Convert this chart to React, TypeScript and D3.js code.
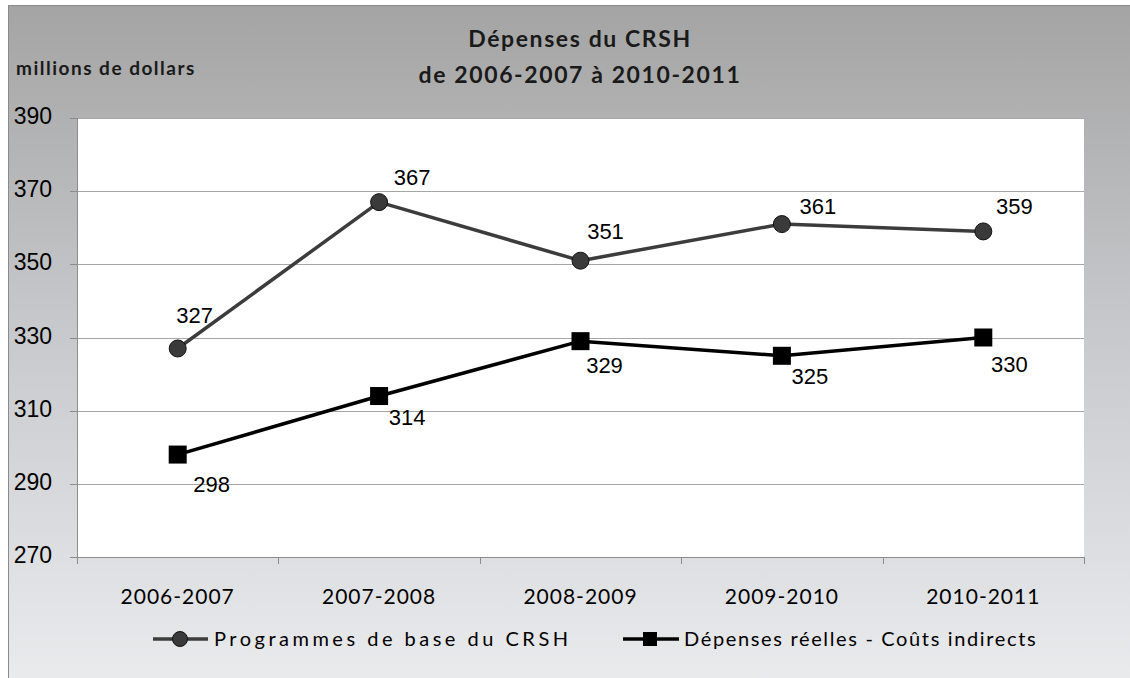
import React from "react";
import * as d3 from "d3";

const categories = ["2006-2007", "2007-2008", "2008-2009", "2009-2010", "2010-2011"];
const programmesBase = [327, 367, 351, 361, 359];
const depensesReelles = [298, 314, 329, 325, 330];
const yTicks = [270, 290, 310, 330, 350, 370, 390];
const seriesNames = ["Programmes de base du CRSH", "Dépenses réelles - Coûts indirects"];
const titleLines = ["Dépenses du CRSH", "de 2006-2007 à 2010-2011"];
const yUnit = "millions de dollars";

// label placement (dx, dy from marker)
const labelOffsets1: [number, number][] = [[17, -25], [33, -17], [25, -22], [36, -10], [31, -17]];
const labelOffsets2: [number, number][] = [[34, 37], [28, 29], [24, 32], [28, 28], [26, 34]];

const W = 1130;
const H = 678;
const plot = { left: 77, right: 1084, top: 118, bottom: 557 };

export default function App() {
  const x = d3.scaleBand<string>().domain(categories).range([plot.left, plot.right]).padding(0);
  const y = d3.scaleLinear().domain([270, 390]).range([plot.bottom, plot.top]);
  const cx = (c: string) => (x(c) as number) + x.bandwidth() / 2;

  const line = d3
    .line<number>()
    .x((_, i) => cx(categories[i]))
    .y((d) => y(d));

  const numFont = "'Liberation Sans', Arial, sans-serif";
  const txtFont = "Lato, 'Open Sans', sans-serif";

  const bandEdges = categories.map((c) => x(c) as number).concat([plot.right]);

  return (
    <svg width={W} height={H} style={{ position: "absolute", left: 0, top: 0 }}>
      <defs>
        <linearGradient id="bg" x1="0" y1="0" x2="0" y2="1">
          <stop offset="0" stopColor="#a4a4a4" />
          <stop offset="0.45" stopColor="#c6c7ca" />
          <stop offset="1" stopColor="#ebecee" />
        </linearGradient>
      </defs>
      <rect x={8.5} y={5.5} width={W + 10} height={H + 10} fill="url(#bg)" stroke="#8a8a8a" strokeWidth={1} />
      <rect x={plot.left} y={plot.top} width={plot.right - plot.left} height={plot.bottom - plot.top} fill="#ffffff" />

      {/* title */}
      {titleLines.map((t, i) => (
        <text
          key={t}
          x={580}
          y={47 + i * 36}
          textAnchor="middle"
          fontFamily={txtFont}
          fontWeight={700}
          fontSize={23}
          letterSpacing={1.6}
          fill="#1a1a1a"
        >
          {t}
        </text>
      ))}
      <text x={16} y={75} fontFamily={txtFont} fontWeight={700} fontSize={19} letterSpacing={1.5} fill="#1a1a1a">
        {yUnit}
      </text>

      {/* gridlines */}
      {yTicks.map((t) => (
        <g key={t}>
          {t !== 270 && (
            <line x1={plot.left} x2={plot.right} y1={Math.round(y(t)) + 0.5} y2={Math.round(y(t)) + 0.5} stroke="#a6a6a6" strokeWidth={1} />
          )}
          <line x1={plot.left - 7} x2={plot.left} y1={Math.round(y(t)) + 0.5} y2={Math.round(y(t)) + 0.5} stroke="#8c8c8c" strokeWidth={1} />
          <text x={52} y={y(t) + 6} textAnchor="end" fontFamily={numFont} fontSize={23} fill="#000">
            {t}
          </text>
        </g>
      ))}

      {/* axes */}
      <line x1={plot.left + 0.5} x2={plot.left + 0.5} y1={plot.top} y2={plot.bottom} stroke="#8c8c8c" strokeWidth={1} />
      <line x1={plot.left} x2={plot.right} y1={plot.bottom + 0.5} y2={plot.bottom + 0.5} stroke="#8c8c8c" strokeWidth={1} />
      {bandEdges.map((e, i) => (
        <line key={i} x1={Math.round(e) + 0.5} x2={Math.round(e) + 0.5} y1={plot.bottom} y2={plot.bottom + 7} stroke="#8c8c8c" strokeWidth={1} />
      ))}
      {categories.map((c) => (
        <text key={c} x={cx(c)} y={604} textAnchor="middle" fontFamily={txtFont} fontSize={21} letterSpacing={1} fill="#000">
          {c}
        </text>
      ))}

      {/* series 2 */}
      <path d={line(depensesReelles) || ""} fill="none" stroke="#000" strokeWidth={3.5} strokeLinejoin="round" />
      {depensesReelles.map((v, i) => (
        <rect key={i} x={cx(categories[i]) - 9} y={y(v) - 9} width={18} height={18} fill="#000" />
      ))}
      {/* series 1 */}
      <path d={line(programmesBase) || ""} fill="none" stroke="#3c3c3c" strokeWidth={3.5} strokeLinejoin="round" />
      {programmesBase.map((v, i) => (
        <circle key={i} cx={cx(categories[i])} cy={y(v)} r={8.5} fill="#3a3a3a" stroke="#111" strokeWidth={1} />
      ))}

      {/* labels */}
      {programmesBase.map((v, i) => (
        <text key={i} x={cx(categories[i]) + labelOffsets1[i][0]} y={y(v) + labelOffsets1[i][1]} textAnchor="middle" fontFamily={numFont} fontSize={22} fill="#000">
          {v}
        </text>
      ))}
      {depensesReelles.map((v, i) => (
        <text key={i} x={cx(categories[i]) + labelOffsets2[i][0]} y={y(v) + labelOffsets2[i][1]} textAnchor="middle" fontFamily={numFont} fontSize={22} fill="#000">
          {v}
        </text>
      ))}

      {/* legend */}
      <g>
        <line x1={153} x2={208} y1={639} y2={639} stroke="#3c3c3c" strokeWidth={3.5} />
        <circle cx={180} cy={639} r={7.5} fill="#3a3a3a" stroke="#111" strokeWidth={1} />
        <text x={214} y={646} fontFamily={txtFont} fontSize={20} letterSpacing={3.5} fill="#000">
          {seriesNames[0]}
        </text>
        <line x1={623} x2={679} y1={639} y2={639} stroke="#000" strokeWidth={3.5} />
        <rect x={643} y={632} width={14} height={14} fill="#000" />
        <text x={684} y={646} fontFamily={txtFont} fontSize={20} letterSpacing={1.65} fill="#000">
          {seriesNames[1]}
        </text>
      </g>
    </svg>
  );
}
